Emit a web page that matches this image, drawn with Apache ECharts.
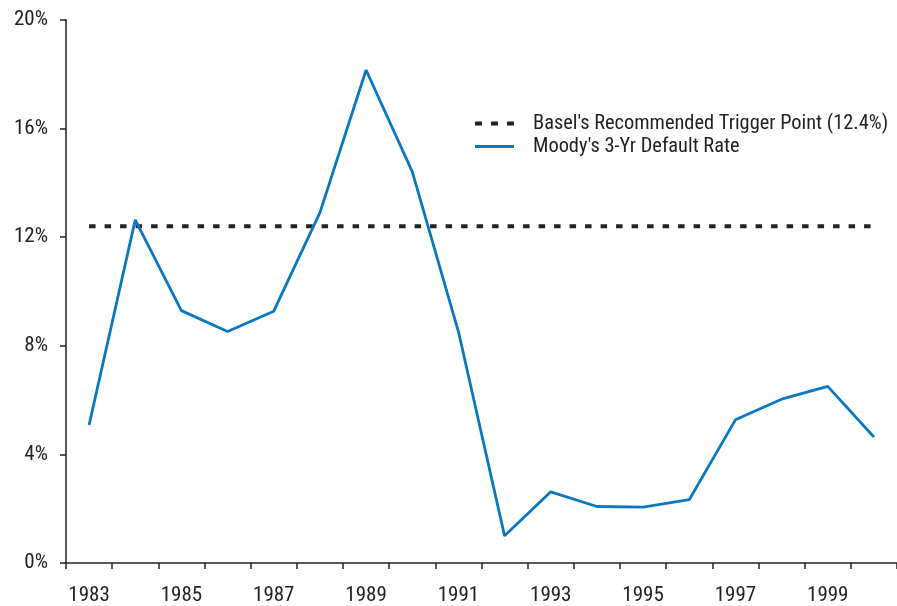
<!DOCTYPE html>
<html>
<head>
<meta charset="utf-8">
<script src="https://cdn.jsdelivr.net/npm/echarts@6/dist/echarts.min.js"></script>
<style>
html,body{margin:0;padding:0;background:#fff;}
#main{width:897px;height:606px;}
</style>
</head>
<body>
<div id="main"></div>
<script>
const years = ['1983','1984','1985','1986','1987','1988','1989','1990','1991','1992','1993','1994','1995','1996','1997','1998','1999','2000'];
const moodys = [5.08, 12.63, 9.29, 8.52, 9.27, 12.9, 18.15, 14.41, 8.52, 1.0, 2.62, 2.08, 2.06, 2.33, 5.27, 6.03, 6.50, 4.64];
const basel = [12.4, 12.4, 12.4, 12.4, 12.4, 12.4, 12.4, 12.4, 12.4, 12.4, 12.4, 12.4, 12.4, 12.4, 12.4, 12.4, 12.4, 12.4];
const yTicks = [0, 4, 8, 12, 16, 20];
const baselName = "Basel's Recommended Trigger Point (12.4%)";
const moodysName = "Moody's 3-Yr Default Rate";

const FONT = '"Liberation Sans Narrow", "Roboto Condensed", "Liberation Sans", sans-serif';
const chart = echarts.init(document.getElementById('main'), null, {renderer: 'canvas'});
chart.setOption({
  animation: false,
  backgroundColor: '#fff',
  grid: {left: 66, width: 835, top: 19.7, bottom: 42.7, containLabel: false},
  legend: {
    orient: 'vertical',
    left: 470,
    top: 108.5,
    itemWidth: 39,
    itemHeight: 4,
    itemGap: 3,
    textStyle: {fontFamily: FONT, fontSize: 20.4, color: '#222', padding: [0, 0, 0, 14], lineHeight: 20},
    data: [
      {name: baselName, icon: 'path://M0,0H7V4H0Z M16,0H23V4H16Z M32,0H39V4H32Z', itemStyle: {color: '#222'}},
      {name: moodysName, icon: 'path://M0,0.5H39V3.5H0Z', itemStyle: {color: '#0a78c0'}}
    ]
  },
  xAxis: {
    type: 'category',
    data: years,
    boundaryGap: true,
    axisLine: {lineStyle: {color: '#222', width: 1.5}},
    axisTick: {show: true, interval: 0, length: 6, lineStyle: {color: '#222', width: 1.5}},
    axisLabel: {interval: 1, margin: 22, fontFamily: FONT, fontSize: 21, color: '#222'},
    splitLine: {show: false}
  },
  yAxis: {
    type: 'value',
    min: yTicks[0],
    max: yTicks[yTicks.length - 1],
    interval: 4,
    axisLine: {show: true, lineStyle: {color: '#222', width: 1.5}},
    axisTick: {show: true, length: 6, lineStyle: {color: '#222', width: 1.5}},
    axisLabel: {margin: 18, fontFamily: FONT, fontSize: 21, color: '#222', formatter: '{value}%'},
    splitLine: {show: false}
  },
  series: [
    {
      name: baselName,
      type: 'line',
      data: basel,
      symbol: 'none',
      z: 2,
      lineStyle: {color: '#222', width: 4, type: [6.5, 9]},
      itemStyle: {color: '#222'}
    },
    {
      name: moodysName,
      type: 'line',
      data: moodys,
      symbol: 'none',
      z: 3,
      lineStyle: {color: '#0a78c0', width: 2.8},
      itemStyle: {color: '#0a78c0'}
    }
  ]
});
</script>
</body>
</html>
